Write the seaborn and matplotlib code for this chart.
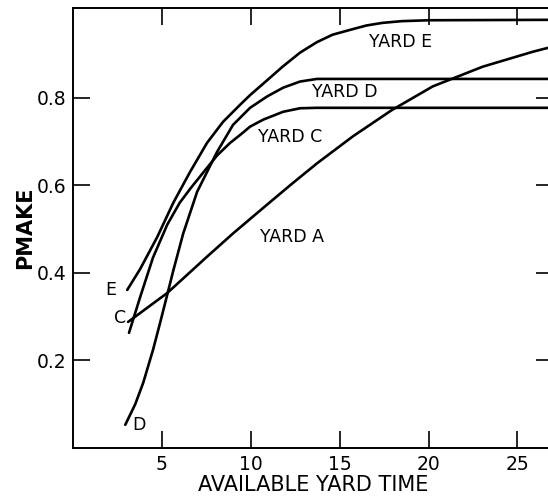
import pandas as pd
import matplotlib
matplotlib.use("Agg")
import matplotlib.pyplot as plt
import seaborn as sns

# curves (available yard time, pmake)
yard_a_x = [3.1, 5.3, 7.54, 9.0, 10.92, 12.3, 13.72, 15.75, 17.94, 20.24, 23.05, 25.86, 27.0]
yard_a_y = [0.288, 0.354, 0.437, 0.490, 0.556, 0.603, 0.650, 0.712, 0.772, 0.826, 0.871, 0.905, 0.917]

yard_c_x = [3.15, 3.78, 4.5, 5.3, 6.0, 6.59, 7.54, 8.1, 8.84, 9.4, 9.96, 10.7, 11.82, 12.77, 13.7, 27.0]
yard_c_y = [0.263, 0.345, 0.435, 0.510, 0.560, 0.592, 0.640, 0.668, 0.697, 0.715, 0.734, 0.750, 0.768, 0.776, 0.777, 0.777]

yard_d_x = [2.94, 3.5, 3.95, 4.5, 4.9, 5.3, 5.64, 6.2, 6.98, 8.1, 9.0, 9.96, 10.92, 11.82, 12.77, 13.72, 27.0]
yard_d_y = [0.053, 0.100, 0.149, 0.224, 0.286, 0.350, 0.405, 0.490, 0.585, 0.676, 0.738, 0.777, 0.803, 0.823, 0.837, 0.843, 0.843]

yard_e_x = [3.05, 3.78, 4.74, 5.64, 6.59, 7.54, 8.44, 9.4, 9.96, 10.92, 11.82, 12.77, 13.72, 14.6,
            15.58, 16.5, 17.4, 18.5, 20.0, 27.0]
yard_e_y = [0.361, 0.409, 0.482, 0.560, 0.631, 0.697, 0.745, 0.784, 0.806, 0.840, 0.872, 0.903, 0.927, 0.944,
            0.955, 0.965, 0.971, 0.975, 0.977, 0.978]

curve_names = ["A", "C", "D", "E"]
x_ticks = [5, 10, 15, 20, 25]
y_ticks = [0.2, 0.4, 0.6, 0.8]

frames = []
for name, xs, ys in zip(curve_names,
                        [yard_a_x, yard_c_x, yard_d_x, yard_e_x],
                        [yard_a_y, yard_c_y, yard_d_y, yard_e_y]):
    frames.append(pd.DataFrame({"time": xs, "pmake": ys, "yard": name}))
df = pd.concat(frames, ignore_index=True)

sns.set_style("ticks")
plt.rcParams["font.family"] = ["DejaVu Sans"]
plt.rcParams["text.color"] = "black"
plt.rcParams["axes.labelcolor"] = "black"

fig = plt.figure(figsize=(5.48, 4.99), dpi=100)
ax = fig.add_axes([73 / 548, 51 / 499, 480 / 548, 440 / 499])

for name in curve_names:
    sns.lineplot(data=df[df["yard"] == name], x="time", y="pmake",
                 color="black", linewidth=1.9, sort=False, ax=ax)

# labels on the curves
ax.text(18.4, 0.928, "YARD E", fontsize=12.5, ha="center", va="center")
ax.text(15.3, 0.814, "YARD D", fontsize=12.5, ha="center", va="center")
ax.text(12.2, 0.711, "YARD C", fontsize=12.5, ha="center", va="center")
ax.text(12.3, 0.482, "YARD A", fontsize=12.5, ha="center", va="center")
ax.text(2.15, 0.36, "E", fontsize=12.5, ha="center", va="center")
ax.text(2.65, 0.297, "C", fontsize=12.5, ha="center", va="center")
ax.text(3.7, 0.053, "D", fontsize=12.5, ha="center", va="center")

ax.set_xlim(0, 27)
ax.set_ylim(0, 1.005)
ax.set_xticks(x_ticks)
ax.set_yticks(y_ticks)
ax.set_yticklabels([f"{v:.1f}" for v in y_ticks])
ax.tick_params(direction="in", length=12, width=1.2, labelsize=13.5,
               top=True, right=True, colors="black", pad=5)
for sp in ax.spines.values():
    sp.set_linewidth(1.4)
    sp.set_color("black")

ax.set_xlabel("AVAILABLE YARD TIME", fontsize=15, labelpad=1)
ax.set_ylabel("PMAKE", fontsize=15, fontweight="bold", labelpad=1)

fig.savefig("out.png", dpi=100)
